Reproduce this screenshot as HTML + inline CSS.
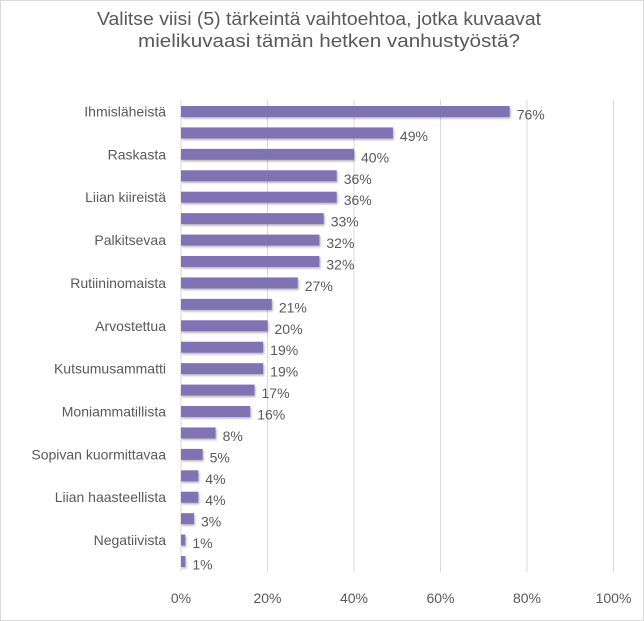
<!DOCTYPE html>
<html><head><meta charset="utf-8"><style>
html,body{margin:0;padding:0;background:#fff;}
svg{display:block;font-family:"Liberation Sans",sans-serif;}
</style></head><body>
<svg width="644" height="621" xmlns="http://www.w3.org/2000/svg">
<defs><filter id="sh" x="-5%" y="-30%" width="120%" height="180%"><feDropShadow dx="1" dy="1.5" stdDeviation="1" flood-color="#000" flood-opacity="0.3"/></filter></defs>
<rect x="0.5" y="0.5" width="643" height="620" fill="#fff" stroke="#d9d9d9"/>
<text x="97" y="25" font-size="18" fill="#595959" textLength="444" lengthAdjust="spacingAndGlyphs">Valitse viisi (5) tärkeintä vaihtoehtoa, jotka kuvaavat</text>
<text x="138" y="47" font-size="18" fill="#595959" textLength="382" lengthAdjust="spacingAndGlyphs">mielikuvaasi tämän hetken vanhustyöstä?</text>
<g stroke="#d9d9d9" stroke-width="1">
<line x1="267.5" y1="100" x2="267.5" y2="572"/>
<line x1="354" y1="100" x2="354" y2="572"/>
<line x1="440.5" y1="100" x2="440.5" y2="572"/>
<line x1="527" y1="100" x2="527" y2="572"/>
<line x1="613.5" y1="100" x2="613.5" y2="572"/>
<line x1="181" y1="100" x2="181" y2="572"/>
</g>
<g id="bars" fill="#8073b3" filter="url(#sh)"></g>
<g id="vals" font-size="14" fill="#595959"></g>
<g id="cats" font-size="14" fill="#595959" text-anchor="end"></g>
<g font-size="14" fill="#595959" text-anchor="middle">
<text x="181" y="603">0%</text><text x="267.5" y="603">20%</text><text x="354" y="603">40%</text><text x="440.5" y="603">60%</text><text x="527" y="603">80%</text><text x="613.5" y="603">100%</text>
</g>
</svg>
<script>
var v=[76,49,40,36,36,33,32,32,27,21,20,19,19,17,16,8,5,4,4,3,1,1];
var c=["Ihmisläheistä","Raskasta","Liian kiireistä","Palkitsevaa","Rutiininomaista","Arvostettua","Kutsumusammatti","Moniammatillista","Sopivan kuormittavaa","Liian haasteellista","Negatiivista"];
var ns="http://www.w3.org/2000/svg";
var B=document.getElementById("bars"),V=document.getElementById("vals"),C=document.getElementById("cats");
for(var i=0;i<v.length;i++){
 var cy=111.5+i*21.43,w=v[i]*4.325;
 var r=document.createElementNS(ns,"rect");r.setAttribute("x",181);r.setAttribute("y",cy-5.5);r.setAttribute("width",w);r.setAttribute("height",11);B.appendChild(r);
 var t=document.createElementNS(ns,"text");t.setAttribute("x",181+w+7);t.setAttribute("y",cy+8);t.textContent=v[i]+"%";V.appendChild(t);
 if(i%2==0){var k=document.createElementNS(ns,"text");k.setAttribute("x",166);k.setAttribute("y",cy+5);k.textContent=c[i/2];C.appendChild(k);}
}
</script>
</body></html>
